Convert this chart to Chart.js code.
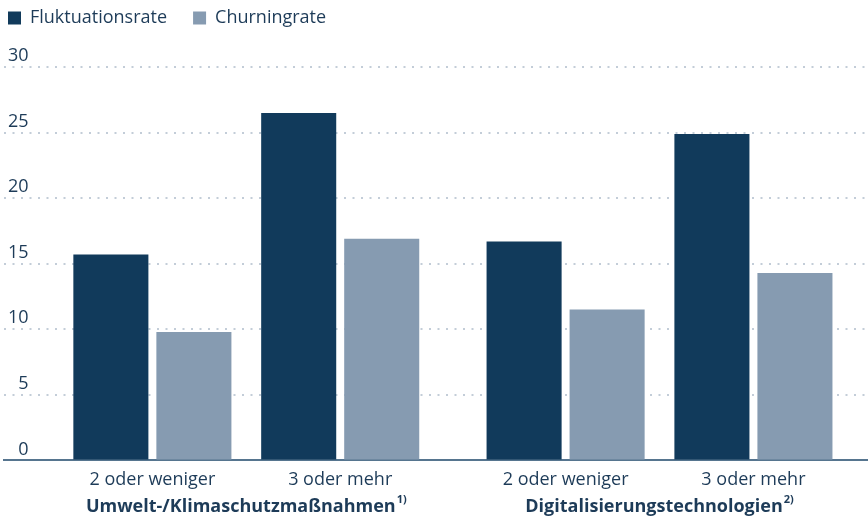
<!DOCTYPE html>
<html>
<head>
<meta charset="utf-8">
<script src="https://cdn.jsdelivr.net/npm/chart.js@4/dist/chart.umd.min.js"></script>
<style>
  html, body { margin: 0; padding: 0; background: #fff; }
  #wrap { width: 868px; height: 520px; position: relative; }
</style>
</head>
<body>
<div id="wrap"><canvas id="rateChart"></canvas></div>
<script>
const categories = ['2 oder weniger', '3 oder mehr', '2 oder weniger', '3 oder mehr'];
const groups = ['Umwelt-/Klimaschutzmaßnahmen', 'Digitalisierungstechnologien'];
const groupNotes = ['1)', '2)'];
const fluktuationsrate = [15.7, 26.5, 16.7, 24.9];
const churningrate = [9.8, 16.9, 11.5, 14.3];

const DARK = '#113a5b';
const LIGHT = '#869bb1';
const TEXT = '#1d3b58';
const FONT = "'Open Sans', sans-serif";

// slots on the x axis, second group sits a bit further away
const slots = [0, 1, 2.2, 3.2];
const toPoints = (vals) => vals.map((v, i) => ({ x: slots[i], y: v }));

const ctx = document.getElementById('rateChart').getContext('2d');

const rateChart = new Chart(ctx, {
    type: 'bar',
    data: {
        datasets: [
            {
                label: 'Fluktuationsrate',
                data: toPoints(fluktuationsrate),
                backgroundColor: DARK,
                categoryPercentage: 0.884,
                barPercentage: 0.904
            },
            {
                label: 'Churningrate',
                data: toPoints(churningrate),
                backgroundColor: LIGHT,
                categoryPercentage: 0.884,
                barPercentage: 0.904
            }
        ]
    },
    options: {
        responsive: true,
        maintainAspectRatio: false,
        animation: false,
        layout: {
            padding: { left: 4, right: 0, top: 0, bottom: 20 }
        },
        plugins: {
            legend: {
                position: 'top',
                align: 'start',
                labels: {
                    boxWidth: 13,
                    boxHeight: 13,
                    padding: 26,
                    color: TEXT,
                    font: { family: FONT, size: 18 }
                }
            },
            tooltip: { enabled: false }
        },
        scales: {
            x: {
                type: 'linear',
                min: -0.79,
                max: 3.81,
                offset: false,
                afterBuildTicks: (scale) => {
                    scale.ticks = slots.map(v => ({ value: v }));
                },
                ticks: {
                    autoSkip: false,
                    maxRotation: 0,
                    padding: 9,
                    color: TEXT,
                    font: { family: FONT, size: 18 },
                    callback: (value, index) => categories[index]
                },
                grid: { display: false, drawTicks: false },
                border: { display: true, color: '#56758f', width: 2 }
            },
            y: {
                min: 0,
                max: 30,
                afterFit: (scale) => { scale.width = 0; },
                ticks: {
                    stepSize: 5,
                    mirror: true,
                    crossAlign: 'far',
                    padding: 4,
                    labelOffset: -11,
                    color: TEXT,
                    font: { family: FONT, size: 18 }
                },
                grid: {
                    color: '#c3cdd8',
                    lineWidth: 2,
                    drawTicks: false
                },
                border: { display: false, dash: [2, 6.5] }
            }
        }
    },
    plugins: [{
        id: 'legendShift',
        afterInit(chart) {
            const legend = chart.legend;
            const fit = legend.fit;
            legend.fit = function () {
                fit.call(this);
                this.height += 13;
            };
            const draw = legend.draw;
            legend.draw = function () {
                const c = this.ctx;
                c.save();
                c.translate(-22, -17);
                draw.call(this);
                c.restore();
            };
        }
    }, {
        id: 'groupTitles',
        afterDraw(chart) {
            const c = chart.ctx;
            const xs = chart.scales.x;
            c.save();
            c.fillStyle = TEXT;
            c.textBaseline = 'middle';
            c.textAlign = 'left';
            groups.forEach((g, i) => {
                const mid = xs.getPixelForValue((slots[i * 2] + slots[i * 2 + 1]) / 2);
                c.font = 'bold 18px ' + FONT;
                const w = c.measureText(g).width;
                c.font = 'bold 11px ' + FONT;
                const ws = c.measureText(groupNotes[i]).width;
                const x0 = mid - (w + ws + 1) / 2;
                const y = 507;
                c.font = 'bold 18px ' + FONT;
                c.fillText(g, x0, y);
                c.font = 'bold 11px ' + FONT;
                c.fillText(groupNotes[i], x0 + w + 1, y - 7);
            });
            c.restore();
        }
    }]
});
</script>
</body>
</html>
